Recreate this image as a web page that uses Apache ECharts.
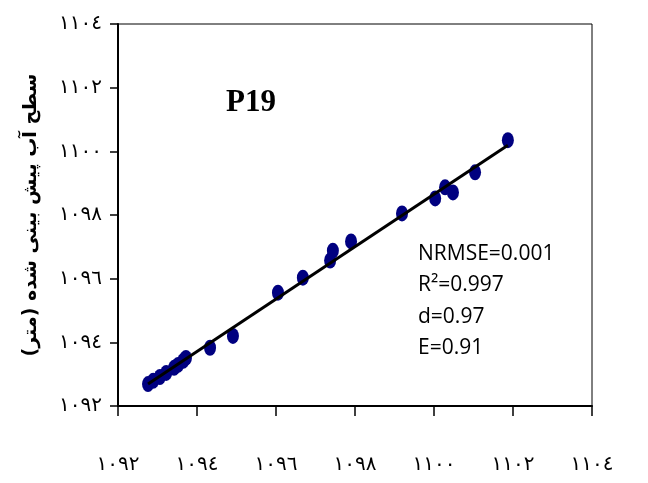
<!DOCTYPE html>
<html>
<head>
<meta charset="utf-8">
<style>html,body{margin:0;padding:0;background:#fff}#chart{width:648px;height:483px}</style>
<script src="https://cdn.jsdelivr.net/npm/echarts@6/dist/echarts.min.js"></script>
</head>
<body>
<div id="chart"></div>
<script>
// Observed water level (x) vs predicted water level (y), well P19
const observed = [1092.76, 1092.89, 1093.06, 1093.22, 1093.42, 1093.52, 1093.65, 1093.72, 1094.33, 1094.91,
  1096.05, 1096.68, 1097.37, 1097.44, 1097.90, 1099.19, 1100.03, 1100.28, 1100.48, 1101.04, 1101.87];
const predicted = [1092.69, 1092.79, 1092.91, 1093.04, 1093.20, 1093.29, 1093.42, 1093.51, 1093.83, 1094.20,
  1095.56, 1096.03, 1096.57, 1096.88, 1097.17, 1098.05, 1098.52, 1098.87, 1098.71, 1099.34, 1100.35];
const tickValues = [1092, 1094, 1096, 1098, 1100, 1102, 1104];
const statLines = ['NRMSE=0.001', 'R²=0.997', 'd=0.97', 'E=0.91'];
const wellName = 'P19';
const yTitle = 'سطح آب پیش بینی شده (متر)';

// Arabic-Indic digits for tick labels
const toArabicDigits = v => String(v).replace(/[0-9]/g, d => '٠١٢٣٤٥٦٧٨٩'[+d]);

// least-squares fit line through the points
const n = observed.length;
const mx = observed.reduce((a, b) => a + b, 0) / n;
const my = predicted.reduce((a, b) => a + b, 0) / n;
let sxy = 0, sxx = 0;
for (let i = 0; i < n; i++) { sxy += (observed[i] - mx) * (predicted[i] - my); sxx += (observed[i] - mx) ** 2; }
const slope = sxy / sxx, intercept = my - slope * mx;
const xMin = Math.min(...observed), xMax = Math.max(...observed);
const fitLine = [[xMin, intercept + slope * xMin], [xMax, intercept + slope * xMax]];

const chart = echarts.init(document.getElementById('chart'));
const labelFont = { fontFamily: 'DejaVu Sans', fontSize: 20, color: '#000' };
chart.setOption({
  animation: false,
  grid: { left: 118, top: 24, right: 56, bottom: 77, show: true, borderColor: '#000', borderWidth: 1, containLabel: false },
  xAxis: {
    type: 'value', min: tickValues[0], max: tickValues[tickValues.length - 1], interval: 2,
    axisLine: { lineStyle: { color: '#000', width: 2 } },
    axisTick: { show: true, inside: false, length: 10, lineStyle: { color: '#000', width: 1.5 } },
    splitLine: { show: false },
    axisLabel: Object.assign({ margin: 49, formatter: toArabicDigits }, labelFont)
  },
  yAxis: {
    type: 'value', min: tickValues[0], max: tickValues[tickValues.length - 1], interval: 2,
    name: yTitle, nameLocation: 'middle', nameGap: 77, nameRotate: 90,
    nameTextStyle: { fontFamily: 'DejaVu Sans', fontSize: 19, fontWeight: 'bold', color: '#000' },
    axisLine: { lineStyle: { color: '#000', width: 2 } },
    axisTick: { show: true, inside: false, length: 8, lineStyle: { color: '#000', width: 1.5 } },
    splitLine: { show: false },
    axisLabel: Object.assign({ margin: 16, formatter: toArabicDigits }, labelFont)
  },
  series: [
    {
      type: 'scatter', data: observed.map((x, i) => [x, predicted[i]]),
      symbol: 'circle', symbolSize: [12, 16],
      itemStyle: { color: '#000080', opacity: 1 }, z: 2
    },
    {
      type: 'line', data: fitLine, symbol: 'none',
      lineStyle: { color: '#000', width: 3 }, z: 3
    }
  ],
  graphic: [
    {
      type: 'text', left: 226, top: 87,
      style: { text: wellName, fontFamily: 'Liberation Serif', fontWeight: 'bold', fontSize: 31, fill: '#000' }
    },
    {
      type: 'text', left: 418, top: 238,
      style: { text: statLines.join('\n'), fontFamily: 'Open Sans', fontSize: 21, lineHeight: 31.5, fill: '#000' }
    }
  ]
});
</script>
</body>
</html>
